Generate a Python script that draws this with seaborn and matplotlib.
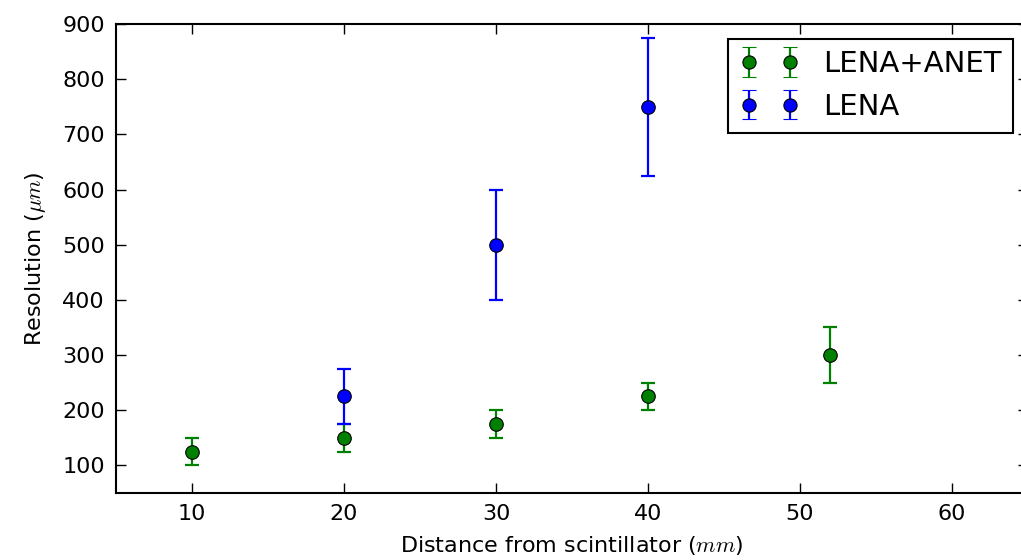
import numpy as np
import pandas as pd
import matplotlib
matplotlib.use("Agg")
import matplotlib.pyplot as plt
import seaborn as sns

# Data
anet_x = [10, 20, 30, 40, 52]
anet_y = [125, 150, 175, 225, 300]
anet_err = [25, 25, 25, 25, 50]

lena_x = [20, 30, 40]
lena_y = [225, 500, 750]
lena_err = [50, 100, 125]

xticks = [10, 20, 30, 40, 50, 60]
yticks = [100, 200, 300, 400, 500, 600, 700, 800, 900]

sns.set_style("ticks", {"text.color": "black", "axes.labelcolor": "black",
                        "xtick.color": "black", "ytick.color": "black",
                        "axes.edgecolor": "black"})
plt.rcParams['font.family'] = ['DejaVu Sans']
plt.rcParams['mathtext.fontset'] = 'cm'

fig = plt.figure(figsize=(10.21, 5.60), dpi=100)
ax = fig.add_axes([116/1021, 67/560, (1028-116)/1021, (493-24)/560])

series = [
    ("LENA+ANET", anet_x, anet_y, anet_err, "green"),
    ("LENA", lena_x, lena_y, lena_err, "blue"),
]

handles = []
for name, xs, ys, es, col in series:
    ax.errorbar(xs, ys, yerr=es, fmt="none", ecolor=col, elinewidth=1.6,
                capsize=5, capthick=1.6, zorder=2)
    df = pd.DataFrame({"x": xs, "y": ys})
    sns.scatterplot(data=df, x="x", y="y", ax=ax, color=col, s=95,
                    edgecolor="black", linewidth=0.8, zorder=3, legend=False)
    h = ax.errorbar([np.nan], [np.nan], yerr=[np.nan], fmt="o", color=col,
                    ecolor=col, mec="black", mew=0.8, ms=9.5, elinewidth=1.6,
                    capsize=5, capthick=1.6, label=name)
    handles.append(h)

ax.set_xlim(5, 65)
ax.set_ylim(50, 900)
ax.set_xticks(xticks)
ax.set_yticks(yticks)
ax.tick_params(direction="in", top=True, right=True, length=7, width=1,
               labelsize=16, pad=8, colors="black")
for s in ax.spines.values():
    s.set_linewidth(1.5)
    s.set_color("black")

ax.set_xlabel(r"Distance from scintillator ($mm$)", fontsize=16, labelpad=7)
ax.set_ylabel(r"Resolution ($\mu m$)", fontsize=16, labelpad=10)

leg = ax.legend(handles=handles, labels=["LENA+ANET", "LENA"], loc="upper right",
                numpoints=2, fontsize=21, frameon=True, fancybox=False,
                handlelength=2, borderaxespad=0.5, handletextpad=0.85,
                borderpad=0.4)
leg.get_frame().set_edgecolor("black")
leg.get_frame().set_linewidth(1.5)
leg.get_frame().set_alpha(1)
for t in leg.get_texts():
    t.set_color("black")

fig.savefig("out.png", dpi=100, facecolor="white")
